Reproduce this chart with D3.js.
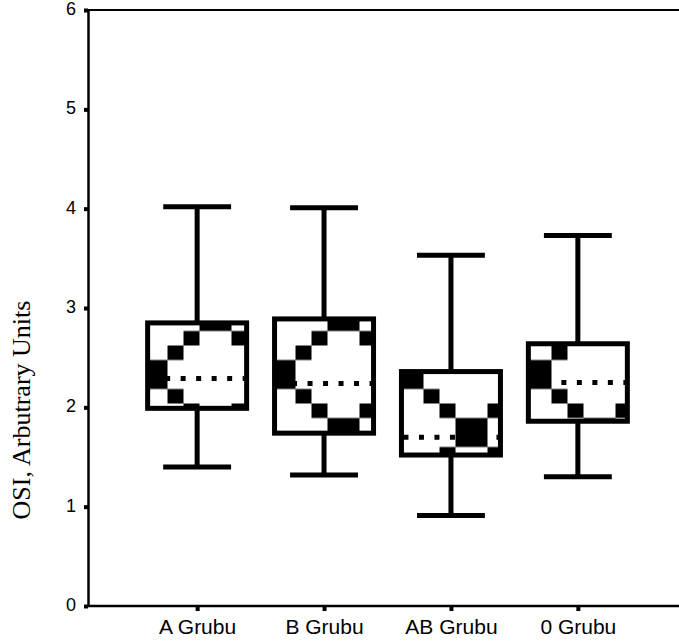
<!DOCTYPE html>
<html>
<head>
<meta charset="utf-8">
<script src="https://cdn.jsdelivr.net/npm/d3@7"></script>
<style>
  body { margin: 0; background: #fff; }
  svg { display: block; }
</style>
</head>
<body>
<svg id="chart"></svg>
<script>
const groups = ["A Grubu", "B Grubu", "AB Grubu", "0 Grubu"]
const whiskerHigh = [4.02, 4.01, 3.53, 3.73]
const q3 = [2.85, 2.89, 2.36, 2.64]
const medians = [2.29, 2.24, 1.70, 2.25]
const q1 = [1.99, 1.74, 1.52, 1.86]
const whiskerLow = [1.40, 1.32, 0.91, 1.30]
const yTicks = [0, 1, 2, 3, 4, 5, 6]
const yTitle = "OSI, Arbutrary Units"

const width = 679, height = 643

const boxes = groups.map((g, i) => ({
  group: g, hi: whiskerHigh[i], q3: q3[i], med: medians[i], q1: q1[i], lo: whiskerLow[i]
}))

const svg = d3.select("#chart")
  .attr("width", width)
  .attr("height", height)

// ## SCALES ##
const y = d3.scaleLinear().domain([0, 6]).range([606, 10])
const x = d3.scalePoint().domain(groups).range([88, 687]).padding(0.86)
const boxW = x.step() * 0.78
const capW = x.step() * 0.535

// diamond lattice fill, like the old SPSS pattern
const cellW = 16, cellH = 14.5
const defs = svg.append("defs")
const pat = defs.append("pattern")
  .attr("id", "diamonds")
  .attr("patternUnits", "userSpaceOnUse")
  .attr("x", 151.5).attr("y", 316.5)
  .attr("width", cellW * 8).attr("height", cellH * 8)
pat.append("rect").attr("width", cellW * 8).attr("height", cellH * 8).attr("fill", "#fff")
const cells = []
for (let i = 0; i < 8; i++) {
  for (let j = 0; j < 8; j++) {
    if (((i - j) % 8 + 8) % 8 === 4 || (i + j) % 8 === 3) cells.push([i, j])
  }
}
pat.selectAll("rect.cell")
  .data(cells)
  .enter().append("rect")
  .attr("class", "cell")
  .attr("x", d => d[0] * cellW)
  .attr("y", d => d[1] * cellH)
  .attr("width", cellW)
  .attr("height", cellH)
  .attr("fill", "#000")

// ## AXES ##
svg.append("line")
  .attr("x1", 88).attr("x2", width)
  .attr("y1", y(6)).attr("y2", y(6))
  .attr("stroke", "#000").attr("stroke-width", 2)

const yAxis = svg.append("g")
  .attr("transform", "translate(88,0)")
  .call(d3.axisLeft(y).tickValues(yTicks).tickFormat(d3.format("d")).tickSize(0).tickPadding(12))
yAxis.select(".domain").attr("stroke-width", 2.5)
yAxis.selectAll("text")
  .attr("font-family", "Liberation Sans, Arial, sans-serif")
  .attr("font-size", 18)
  .attr("fill", "#000")
  .attr("dy", "0.25em")
yAxis.selectAll(".tick").append("rect")
  .attr("x", -4).attr("y", -2).attr("width", 4).attr("height", 4)
  .attr("fill", "#000")

const xAxis = svg.append("g")
  .attr("transform", `translate(0,${y(0)})`)
  .call(d3.axisBottom(x).tickSize(0).tickPadding(13))
xAxis.select(".domain").attr("stroke-width", 2.5)
  .attr("d", `M88,0H${width}`)
xAxis.selectAll("text")
  .attr("font-family", "Liberation Sans, Arial, sans-serif")
  .attr("font-size", 21)
  .attr("fill", "#000")
xAxis.selectAll(".tick").append("rect")
  .attr("x", -2).attr("y", 0).attr("width", 4).attr("height", 5)
  .attr("fill", "#000")

svg.append("text")
  .attr("transform", "translate(30,410) rotate(-90)")
  .attr("text-anchor", "middle")
  .attr("font-family", "Liberation Serif, Times New Roman, serif")
  .attr("font-size", 26)
  .text(yTitle)

// ## BOXES ##
const g = svg.selectAll("g.box")
  .data(boxes)
  .enter().append("g")
  .attr("class", "box")

g.append("line")
  .attr("x1", d => x(d.group)).attr("x2", d => x(d.group))
  .attr("y1", d => y(d.hi)).attr("y2", d => y(d.lo))
  .attr("stroke", "#000").attr("stroke-width", 5)

g.append("line")
  .attr("x1", d => x(d.group) - capW / 2).attr("x2", d => x(d.group) + capW / 2)
  .attr("y1", d => y(d.hi)).attr("y2", d => y(d.hi))
  .attr("stroke", "#000").attr("stroke-width", 5)

g.append("line")
  .attr("x1", d => x(d.group) - capW / 2).attr("x2", d => x(d.group) + capW / 2)
  .attr("y1", d => y(d.lo)).attr("y2", d => y(d.lo))
  .attr("stroke", "#000").attr("stroke-width", 5)

g.append("rect")
  .attr("x", d => x(d.group) - boxW / 2)
  .attr("y", d => y(d.q3))
  .attr("width", boxW)
  .attr("height", d => y(d.q1) - y(d.q3))
  .attr("fill", "url(#diamonds)")
  .attr("stroke", "#000")
  .attr("stroke-width", 5)

g.append("line")
  .attr("x1", d => x(d.group) - boxW / 2 + 2).attr("x2", d => x(d.group) + boxW / 2 - 2)
  .attr("y1", d => y(d.med)).attr("y2", d => y(d.med))
  .attr("stroke", "#000").attr("stroke-width", 5)
  .attr("stroke-dasharray", "5 10.5")
</script>
</body>
</html>
